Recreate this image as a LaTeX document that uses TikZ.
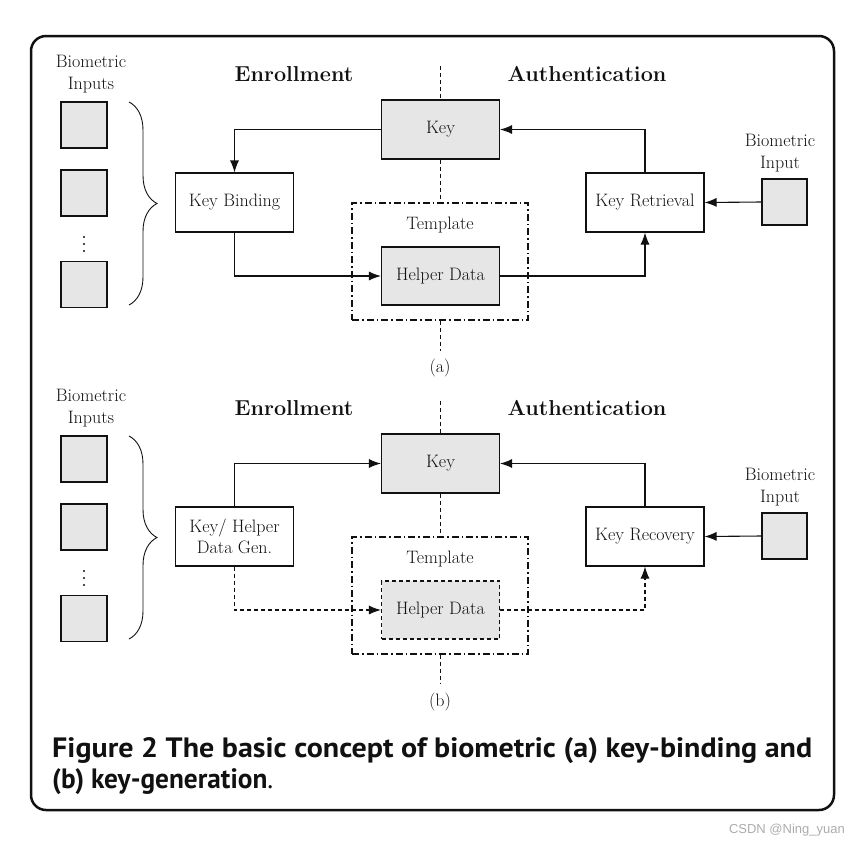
\documentclass[tikz,border=0pt]{standalone}
\usepackage{graphicx}
\usepackage{fontspec}
\newfontfamily\capfont{PT Sans}
\newfontfamily\wmfont{Liberation Sans}
\usetikzlibrary{arrows.meta,decorations.pathreplacing}
\definecolor{boxgray}{HTML}{E6E6E6}
\definecolor{ink}{HTML}{111111}
\begin{document}
\begin{tikzpicture}[x=1pt,y=-1pt,
  every node/.style={font=\fontsize{18}{22}\selectfont,text=ink},
  box/.style={draw=ink,line width=1.1pt,minimum width=118pt,minimum height=59pt,inner sep=0pt,align=center},
  gbox/.style={box,fill=boxgray},
  sq/.style={draw=ink,line width=1.1pt,fill=boxgray,minimum width=46pt,minimum height=46pt,inner sep=0pt},
  arr/.style={draw=ink,line width=1.1pt,-{Latex[length=12pt,width=9pt]}},
  sep/.style={draw=ink,line width=1pt,dash pattern=on 4pt off 3pt},
  tmpl/.style={draw=ink,line width=1.1pt,dash pattern=on 7pt off 3pt on 1.5pt off 3pt,minimum width=176pt,minimum height=117pt,inner sep=0pt},
  dsh/.style={dash pattern=on 4pt off 3pt},
  head/.style={font=\fontsize{21.6}{26}\selectfont\bfseries},
  lbl/.style={align=center,inner sep=0pt},
  dot/.style={circle,fill=ink,inner sep=0pt,minimum size=2.4pt}
]
\useasboundingbox (0,0) rectangle (860,847);
% outer frame
\draw[ink,line width=2.5pt,rounded corners=15pt] (31,36) rectangle (834,810);

% ================= (a) =================
\node[lbl] (binA) at (91,74) {Biometric\\Inputs};
\node[sq] (inA1) at (84,125) {};
\node[sq] (inA2) at (84,193) {};
\node[dot] (dA1) at (84,237) {};
\node[dot] (dA2) at (84,244) {};
\node[dot] (dA3) at (84,251) {};
\node[sq] (inA3) at (84,284.5) {};
\coordinate (brA1) at (129,102);
\coordinate (brA2) at (129,305);
\draw[ink,line width=0.9pt,decorate,decoration={brace,amplitude=28pt}] (brA1) -- (brA2);

\node[head] (enrA) at (294,74) {Enrollment};
\node[head] (autA) at (587,74) {Authentication};

\node[gbox] (keyA) at (440.5,129.5) {Key};
\node[box] (kbA) at (234.5,202.5) {Key Binding};
\node[tmpl] (tmplA) at (440,261.5) {};
\node[lbl] (tlA) at (440,225) {Template};
\node[gbox,minimum height=58pt] (hdA) at (440.5,276) {Helper Data};
\node[box] (krA) at (645,202.5) {Key Retrieval};
\node[lbl] (biA) at (780,153) {Biometric\\Input};
\node[sq,minimum width=45pt] (biInA) at (784.5,202) {};
\node[lbl] (capA) at (440,368) {(a)};

\coordinate (sA1) at (440.5,66);
\coordinate (sA2) at (440.5,351);
\draw[sep] (sA1) -- (keyA.north);
\draw[sep] (keyA.south) -- (tmplA.north -| keyA.south);
\draw[sep] (tmplA.south -| keyA.south) -- (sA2);

\draw[arr] (keyA.west) -| (kbA.north);
\draw[arr] (kbA.south) |- (hdA.west);
\draw[arr] (hdA.east) -| (krA.south);
\draw[arr] (krA.north) |- (keyA.east);
\draw[arr] (biInA.west) -- (krA.east);

% ================= (b) =================
\node[lbl] (binB) at (91,408) {Biometric\\Inputs};
\node[sq] (inB1) at (84,459) {};
\node[sq] (inB2) at (84,527) {};
\node[dot] (dB1) at (84,571) {};
\node[dot] (dB2) at (84,578) {};
\node[dot] (dB3) at (84,585) {};
\node[sq] (inB3) at (84,618.5) {};
\coordinate (brB1) at (129,436);
\coordinate (brB2) at (129,639);
\draw[ink,line width=0.9pt,decorate,decoration={brace,amplitude=28pt}] (brB1) -- (brB2);

\node[head] (enrB) at (294,408) {Enrollment};
\node[head] (autB) at (587,408) {Authentication};

\node[gbox] (keyB) at (440.5,463.5) {Key};
\node[box] (kgB) at (234.5,536.5) {Key/ Helper\\[-1pt]Data Gen.};
\node[tmpl] (tmplB) at (440,595.5) {};
\node[lbl] (tlB) at (440,559) {Template};
\node[gbox,dsh,minimum height=58pt] (hdB) at (440.5,610) {Helper Data};
\node[box] (krB) at (645,536.5) {Key Recovery};
\node[lbl] (biB) at (780,487) {Biometric\\Input};
\node[sq,minimum width=45pt] (biInB) at (784.5,536) {};
\node[lbl] (capB) at (440,702) {(b)};

\coordinate (sB1) at (440.5,401);
\coordinate (sB2) at (440.5,684);
\draw[sep] (sB1) -- (keyB.north);
\draw[sep] (keyB.south) -- (tmplB.north -| keyB.south);
\draw[sep] (tmplB.south -| keyB.south) -- (sB2);

\draw[arr] (kgB.north) |- (keyB.west);
\draw[arr,dsh] (kgB.south) |- (hdB.west);
\draw[arr,dsh] (hdB.east) -| (krB.south);
\draw[arr] (krB.north) |- (keyB.east);
\draw[arr] (biInB.west) -- (krB.east);

% caption
\node[anchor=base west,inner sep=0pt] (cap1) at (52,757)
  {\resizebox{760pt}{\height}{\capfont\fontsize{28}{31}\selectfont\bfseries Figure 2 The basic concept of biometric (a) key-binding and}};
\node[anchor=base west,inner sep=0pt] (cap2) at (52,788)
  {\resizebox{221pt}{\height}{\capfont\fontsize{28}{31}\selectfont\bfseries (b) key-generation\mdseries.}};

% watermark
\node[anchor=east,inner sep=0pt,text=gray!65,font=\wmfont\fontsize{13}{15}\selectfont] (wm) at (845,830) {CSDN @Ning\_yuan};
\end{tikzpicture}
\end{document}
